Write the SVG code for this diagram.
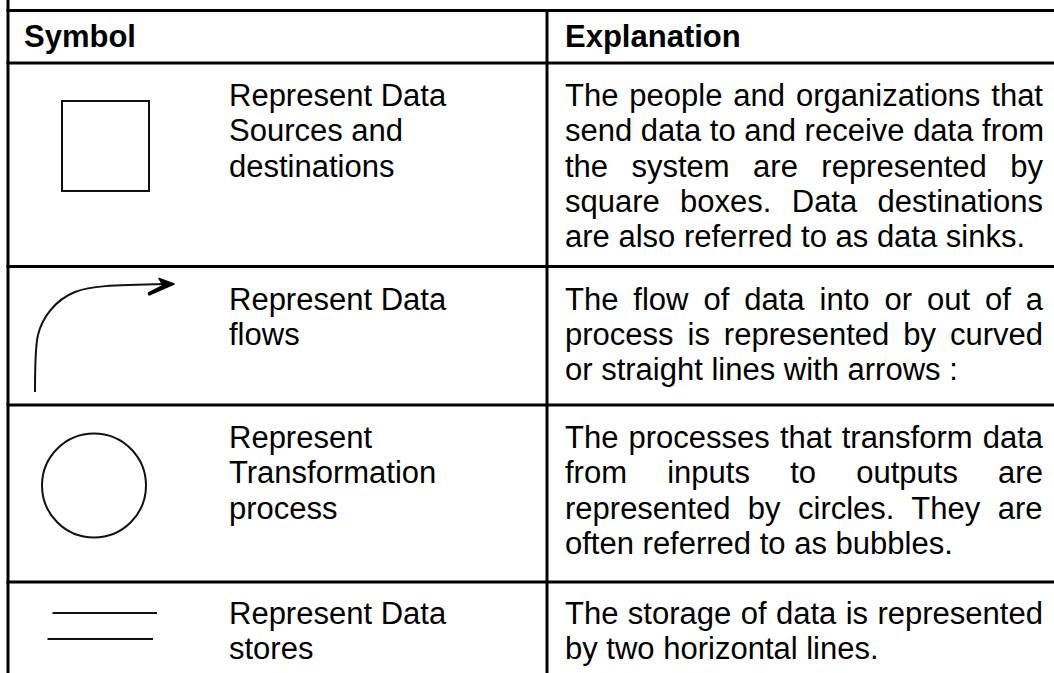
<svg xmlns="http://www.w3.org/2000/svg" width="1054" height="673" viewBox="0 0 1054 673">
<style>
  .grid { stroke: #000; stroke-width: 3; fill: none; }
  .sym { stroke: #111; stroke-width: 2; fill: none; }
  .t { font-family: "Liberation Sans", Arial, sans-serif; font-size: 31px; fill: #000; }
  .h { font-family: "Liberation Sans", Arial, sans-serif; font-size: 31px; font-weight: bold; fill: #000; }
</style>
<rect width="1054" height="673" fill="#fff"/>
<g id="table-grid">
  <line class="grid" x1="8" y1="0" x2="8" y2="673"/>
  <line class="grid" x1="547" y1="10.5" x2="547" y2="673"/>
  <line class="grid" x1="6.5" y1="10.5" x2="1054" y2="10.5"/>
  <line class="grid" x1="6.5" y1="63" x2="1054" y2="63"/>
  <line class="grid" x1="6.5" y1="266.5" x2="1054" y2="266.5"/>
  <line class="grid" x1="6.5" y1="405" x2="1054" y2="405"/>
  <line class="grid" x1="6.5" y1="582" x2="1054" y2="582"/>
</g>
<g id="header">
  <text class="h" x="24" y="47">Symbol</text>
  <text class="h" x="565" y="47">Explanation</text>
</g>
<g id="row-sources">
  <rect class="sym" x="62" y="101" width="87" height="90"/>
  <text class="t" x="229" y="106">Represent Data</text>
  <text class="t" x="229" y="141.3">Sources and</text>
  <text class="t" x="229" y="176.6">destinations</text>
  <text class="t" x="565" y="106" word-spacing="2.3">The people and organizations that</text>
  <text class="t" x="565" y="141.3">send data to and receive data from</text>
  <text class="t" x="565" y="176.6" word-spacing="14.8">the system are represented by</text>
  <text class="t" x="565" y="211.9" word-spacing="11.7">square boxes. Data destinations</text>
  <text class="t" x="565" y="247.2">are also referred to as data sinks.</text>
</g>
<g id="row-flows">
  <path class="sym" stroke="#000" stroke-width="3" d="M35,392 C35,365 35.5,345 38,335 C42,318 55,300 75,292 C90,286 110,285 166,284"/>
  <path fill="#000" stroke="#000" stroke-width="1.5" stroke-linejoin="round" d="M159,278.5 L174,284 L149,295 L148.5,293 L163,285.5 Z"/>
  <text class="t" x="229" y="309.5">Represent Data</text>
  <text class="t" x="229" y="344.8">flows</text>
  <text class="t" x="565" y="309.5" word-spacing="6.33">The flow of data into or out of a</text>
  <text class="t" x="565" y="344.8" word-spacing="5.35">process is represented by curved</text>
  <text class="t" x="565" y="380.1">or straight lines with arrows :</text>
</g>
<g id="row-process">
  <circle class="sym" cx="94" cy="485.5" r="52"/>
  <text class="t" x="229" y="448">Represent</text>
  <text class="t" x="229" y="483.3">Transformation</text>
  <text class="t" x="229" y="518.6">process</text>
  <text class="t" x="565" y="448" word-spacing="1.48">The processes that transform data</text>
  <text class="t" x="565" y="483.3" word-spacing="31.6">from inputs to outputs are</text>
  <text class="t" x="565" y="518.6" word-spacing="8.8">represented by circles. They are</text>
  <text class="t" x="565" y="553.9">often referred to as bubbles.</text>
</g>
<g id="row-stores">
  <line class="sym" stroke-width="2.5" x1="52.5" y1="613" x2="157" y2="613"/>
  <line class="sym" stroke-width="2.5" x1="47.5" y1="639" x2="153" y2="639"/>
  <text class="t" x="229" y="624">Represent Data</text>
  <text class="t" x="229" y="659.3">stores</text>
  <text class="t" x="565" y="624" word-spacing="0.8">The storage of data is represented</text>
  <text class="t" x="565" y="659.3">by two horizontal lines.</text>
</g>
</svg>
